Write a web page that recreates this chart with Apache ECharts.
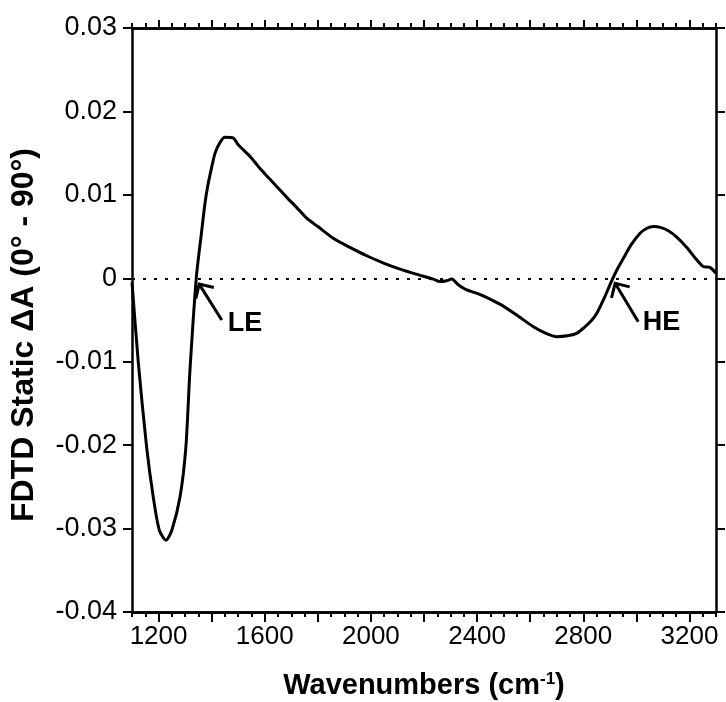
<!DOCTYPE html>
<html>
<head>
<meta charset="utf-8">
<script src="https://cdn.jsdelivr.net/npm/echarts@6/dist/echarts.min.js"></script>
<style>
  html, body { margin: 0; padding: 0; background: #fff; }
  #chart { width: 726px; height: 702px; }
</style>
</head>
<body>
<div id="chart"></div>
<script>
// spectrum
const wavenumbers = [1100, 1124, 1155, 1180, 1203, 1228, 1250, 1281, 1303, 1318, 1342, 1360, 1375, 1385, 1398, 1413,
  1432, 1450, 1482, 1500, 1545, 1576, 1607, 1645, 1683, 1720, 1758, 1800, 1858, 1921, 1984, 2050, 2110, 2170, 2235,
  2260, 2285, 2304, 2330, 2361, 2400, 2423, 2486, 2549, 2612, 2660, 2700, 2740, 2775, 2800, 2830, 2851, 2880,
  2907, 2930, 2951, 2980, 3014, 3040, 3064, 3090, 3120, 3150, 3190, 3220, 3252, 3277, 3300];
const deltaA = [-0.0005, -0.0102, -0.0202, -0.0262, -0.0302, -0.0314, -0.0302, -0.0262, -0.0202, -0.0112, 0.0000,
  0.0050, 0.0090, 0.0110, 0.0130, 0.0150, 0.0163, 0.0169, 0.0168, 0.0160, 0.0146, 0.0134, 0.0123, 0.0110, 0.0097,
  0.0085, 0.0072, 0.0062, 0.0048, 0.0037, 0.0027, 0.0018, 0.0011, 0.0005, -0.0001, -0.0004, -0.0003, -0.0001,
  -0.0008, -0.0014, -0.0018, -0.0021, -0.0031, -0.0044, -0.0058, -0.0066, -0.0070, -0.0069, -0.0066, -0.0060,
  -0.0051, -0.0042, -0.0023, -0.0003, 0.0012, 0.0024, 0.0040, 0.0054, 0.0060, 0.0062, 0.0061, 0.0057, 0.0050,
  0.0037, 0.0025, 0.0014, 0.0013, 0.0006];

const xMajorTicks = [1200, 1400, 1600, 1800, 2000, 2200, 2400, 2600, 2800, 3000, 3200];
const xLabelTicks = [1200, 1600, 2000, 2400, 2800, 3200];

// LE / HE markers
const edgeNames = ['LE', 'HE'];
const arrowTails = [[1438, -0.0050], [3007, -0.0052]];
const arrowTips = [[1353, -0.0007], [2920, -0.0006]];
const edgeLabelAt = [[1526, -0.0054], [3095, -0.0053]];

const FONT = 'Liberation Sans, Arial, sans-serif';
const seriesData = wavenumbers.map((w, i) => [w, deltaA[i]]);

const chart = echarts.init(document.getElementById('chart'));

function xAxisBase(pos, tickLen, extra) {
  return Object.assign({
    type: 'value',
    position: pos,
    min: 1100,
    max: 3300,
    axisLine: { show: true, onZero: false, lineStyle: { color: '#000', width: 2.5 } },
    axisTick: { show: true, inside: false, length: tickLen, lineStyle: { color: '#000', width: 2 } },
    axisLabel: { show: false },
    splitLine: { show: false }
  }, extra);
}

const option = {
  animation: false,
  backgroundColor: '#fff',
  grid: { left: 132, right: 10, top: 28, bottom: 90, containLabel: false, outerBoundsMode: 'none' },
  xAxis: [
    xAxisBase('bottom', 10, {
      axisTick: { show: true, inside: false, length: 10, customValues: xMajorTicks, lineStyle: { color: '#000', width: 2 } },
      axisLabel: {
        show: true, customValues: xLabelTicks, color: '#000', fontSize: 26, fontFamily: FONT, margin: 12,
        formatter: v => String(v)
      },
      name: 'Wavenumbers (cm{sup|-1})',
      nameLocation: 'middle',
      nameGap: 59,
      nameMoveOverlap: false,
      nameTextStyle: {
        color: '#000', fontSize: 29, fontWeight: 'bold', fontFamily: FONT,
        rich: { sup: { fontSize: 17, fontWeight: 'bold', fontFamily: FONT, color: '#000', verticalAlign: 'top', padding: [0, 0, 12, 0] } }
      }
    }),
    xAxisBase('bottom', 5, { interval: 50 }),
    xAxisBase('top', 8, {
      axisTick: { show: true, inside: false, length: 8, customValues: xMajorTicks, lineStyle: { color: '#000', width: 2 } }
    }),
    xAxisBase('top', 5, { interval: 50 })
  ],
  yAxis: [
    {
      type: 'value',
      position: 'left',
      min: -0.04,
      max: 0.03,
      interval: 0.01,
      axisLine: { show: true, onZero: false, lineStyle: { color: '#000', width: 2.5 } },
      axisTick: { show: true, inside: false, length: 9, lineStyle: { color: '#000', width: 2 } },
      axisLabel: {
        color: '#000', fontSize: 27, fontFamily: FONT, margin: 15,
        formatter: v => (Math.abs(v) < 1e-9 ? '0' : v.toFixed(2))
      },
      splitLine: { show: false },
      name: 'FDTD Static ΔA (0° - 90°)',
      nameLocation: 'middle',
      nameGap: 92,
      nameMoveOverlap: false,
      nameTextStyle: { color: '#000', fontSize: 32, fontWeight: 'bold', fontFamily: FONT, padding: [0, 30, 0, 0] }
    },
    {
      type: 'value',
      position: 'right',
      min: -0.04,
      max: 0.03,
      interval: 0.01,
      axisLine: { show: true, onZero: false, lineStyle: { color: '#000', width: 2.5 } },
      axisTick: { show: true, inside: false, length: 9, lineStyle: { color: '#000', width: 2 } },
      axisLabel: { show: false },
      splitLine: { show: false }
    }
  ],
  series: [
    {
      type: 'line',
      data: seriesData,
      xAxisIndex: 0,
      yAxisIndex: 0,
      showSymbol: false,
      smooth: 0.25,
      lineStyle: { color: '#000', width: 3 },
      z: 5,
      markLine: {
        silent: true,
        animation: false,
        symbol: 'none',
        label: { show: false },
        lineStyle: { color: '#000', width: 2, type: [3, 8] },
        data: [{ yAxis: 0 }]
      },
      markPoint: {
        silent: true,
        symbol: 'circle',
        symbolSize: 1,
        itemStyle: { color: 'rgba(0,0,0,0)' },
        label: { show: true, position: 'inside', color: '#000', fontSize: 27, fontWeight: 'bold', fontFamily: FONT, formatter: p => p.name },
        data: edgeNames.map((n, i) => ({ name: n, coord: edgeLabelAt[i] }))
      }
    }
  ]
};

chart.setOption(option);

// arrows: shaft plus open V head, placed through the axis scales
const arrowGraphics = [];
arrowTails.forEach((t, i) => {
  const a = chart.convertToPixel({ gridIndex: 0 }, t);
  const b = chart.convertToPixel({ gridIndex: 0 }, arrowTips[i]);
  const ang = Math.atan2(a[1] - b[1], a[0] - b[0]);
  const len = 15, spread = Math.PI / 4;
  const h1 = [b[0] + len * Math.cos(ang - spread), b[1] + len * Math.sin(ang - spread)];
  const h2 = [b[0] + len * Math.cos(ang + spread), b[1] + len * Math.sin(ang + spread)];
  const style = { stroke: '#000', lineWidth: 3, fill: null, lineJoin: 'miter', lineCap: 'butt' };
  arrowGraphics.push({ type: 'polyline', shape: { points: [a, b] }, style, z: 10 });
  arrowGraphics.push({ type: 'polyline', shape: { points: [h1, b, h2] }, style, z: 10 });
});
chart.setOption({ graphic: arrowGraphics });
</script>
</body>
</html>
